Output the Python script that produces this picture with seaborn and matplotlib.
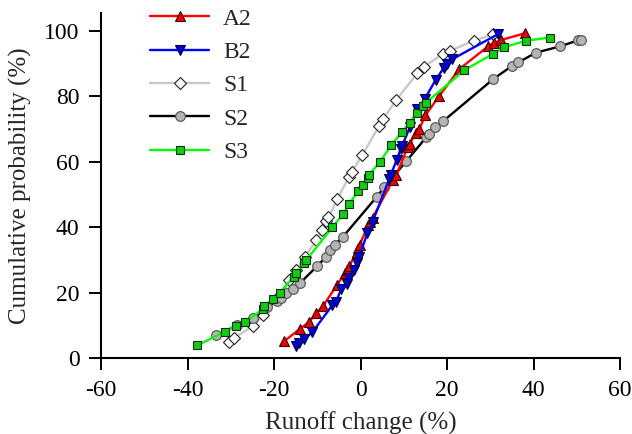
import matplotlib
matplotlib.use("Agg")
import matplotlib.pyplot as plt
import seaborn as sns
import pandas as pd

# ---- data (Runoff change %, cumulative probability %) ----
a2_x = [-17.7, -14.0, -12.0, -10.2, -8.6, -5.5, -3.6, -3.1, -2.6, -0.9, -0.5, -0.2, 1.8, 2.2, 2.8,
        7.5, 8.3, 10.9, 11.4, 12.8, 13.6, 15.0, 18.2, 22.8, 29.5, 30.8, 32.4, 38.0]
a2_y = [5.1, 8.9, 10.9, 13.7, 16.0, 22.2, 26.0, 27.0, 28.0, 32.5, 33.6, 34.6, 40.7, 41.7, 42.8,
        54.5, 56.0, 64.5, 65.5, 68.9, 70.0, 74.2, 80.1, 88.3, 95.3, 96.3, 97.2, 99.3]

b2_x = [-14.9, -14.2, -13.1, -11.1, -6.5, -5.7, -4.5, -3.2, -2.6, -1.5, -0.9, -0.3, 1.6, 2.8,
        6.6, 7.0, 8.4, 9.3, 9.6, 11.4, 13.1, 14.8, 17.4, 19.2, 19.9, 21.1, 31.9]
b2_y = [3.7, 4.5, 5.7, 7.9, 16.2, 17.0, 21.0, 22.7, 24.5, 27.0, 29.0, 31.0, 38.2, 41.7,
        54.6, 56.0, 60.7, 63.9, 64.8, 70.5, 76.0, 79.1, 85.1, 88.6, 89.8, 91.3, 99.1]

s1_x = [-30.5, -29.3, -24.9, -22.5, -19.5, -16.5, -14.8, -12.9, -10.2, -9.0, -8.0, -7.4, -5.4,
        -2.6, -2.0, 0.4, 4.3, 5.2, 8.3, 13.1, 14.6, 19.1, 20.8, 26.2, 30.6]
s1_y = [5.0, 6.0, 9.8, 13.0, 18.0, 24.0, 27.0, 31.0, 36.0, 39.0, 42.0, 43.0, 48.5,
        55.5, 57.0, 62.0, 71.0, 73.0, 79.0, 87.0, 89.0, 93.0, 94.0, 97.0, 99.0]

s2_x = [-33.3, -28.5, -24.8, -21.6, -19.4, -18.3, -17.3, -15.7, -13.9, -10.1, -7.9, -7.1, -6.0,
        -4.1, 3.7, 5.5, 10.6, 15.2, 15.8, 17.3, 19.1, 30.6, 35.1, 36.5, 40.6, 46.2, 50.4, 51.0]
s2_y = [7.0, 10.0, 12.1, 15.5, 17.5, 18.5, 19.8, 21.0, 23.0, 28.0, 31.0, 33.0, 34.5,
        37.0, 49.2, 52.2, 60.2, 67.5, 68.5, 70.5, 72.4, 85.2, 89.4, 90.4, 93.4, 95.3, 97.2, 97.2]

s3_x = [-37.7, -31.4, -28.8, -26.7, -22.6, -22.2, -20.3, -18.6, -15.4, -14.8, -13.1, -12.5,
        -6.5, -4.0, -2.6, -0.6, 0.5, 1.8, 2.0, 4.5, 7.1, 9.5, 11.4, 13.1, 14.5, 15.1, 24.0,
        30.6, 33.1, 38.2, 43.7]
s3_y = [3.9, 8.0, 9.9, 11.0, 14.9, 15.9, 18.0, 20.0, 24.9, 25.9, 28.9, 30.0,
        40.0, 44.1, 47.1, 51.0, 53.0, 55.0, 56.0, 60.0, 65.0, 69.0, 72.0, 75.0, 77.0, 78.0, 88.0,
        93.0, 95.0, 97.0, 98.0]

x_ticks = [-60, -40, -20, 0, 20, 40, 60]
y_ticks = [0, 20, 40, 60, 80, 100]

sns.set_style("ticks")
plt.rcParams["font.family"] = ["Liberation Serif", "DejaVu Serif"]
plt.rcParams["axes.unicode_minus"] = False

fig = plt.figure(figsize=(6.32, 4.34), dpi=100)
ax = fig.add_axes([101 / 632, 76 / 434, 519 / 632, 345 / 434])

series = {
    "A2": (a2_x, a2_y, dict(color="#ff0000", marker="^", mfc="#ee0000", mec="#400000", ms=7)),
    "B2": (b2_x, b2_y, dict(color="#0000ff", marker="v", mfc="#0000dd", mec="#000040", ms=7)),
    "S1": (s1_x, s1_y, dict(color="#c8c8c8", marker="D", mfc="#ffffff", mec="#202020", ms=6.3)),
    "S2": (s2_x, s2_y, dict(color="#000000", marker="o", mfc="#b4b4b4", mec="#505050", ms=7)),
    "S3": (s3_x, s3_y, dict(color="#00ff00", marker="s", mfc="#11cc11", mec="#103010", ms=6)),
}

handles = {}
for name in ["S1", "S2", "A2", "B2", "S3"]:
    xs, ys, st = series[name]
    df = pd.DataFrame({"x": xs, "y": ys})
    sns.lineplot(data=df, x="x", y="y", ax=ax, estimator=None, sort=False,
                 color=st["color"], linewidth=1.7, marker=st["marker"],
                 markerfacecolor=st["mfc"], markeredgecolor=st["mec"],
                 markeredgewidth=0.8, markersize=st["ms"], label=name)
    handles[name] = ax.get_lines()[-1]

ax.set_xlim(-60, 60)
ax.set_ylim(0, 105.5)
ax.set_xticks(x_ticks)
ax.set_yticks(y_ticks)
ax.tick_params(direction="out", length=8.5, width=1.4, labelsize=17, colors="black", pad=7)
for sp in ["top", "right"]:
    ax.spines[sp].set_visible(False)
for sp in ["left", "bottom"]:
    ax.spines[sp].set_linewidth(1.5)
    ax.spines[sp].set_color("black")

ax.set_xlabel("Runoff change (%)", fontsize=18, labelpad=8)
ax.set_ylabel("Cumulative probability (%)", fontsize=18, labelpad=9)

order = ["A2", "B2", "S1", "S2", "S3"]
leg = ax.legend([handles[n] for n in order], order, loc="upper left",
                bbox_to_anchor=(150 / 632, 1 - 8 / 434), bbox_transform=fig.transFigure,
                frameon=False, fontsize=17, handlelength=2.5, handletextpad=0.6,
                labelspacing=0.5, borderpad=0, borderaxespad=0)

fig.savefig("out.png", dpi=100)
